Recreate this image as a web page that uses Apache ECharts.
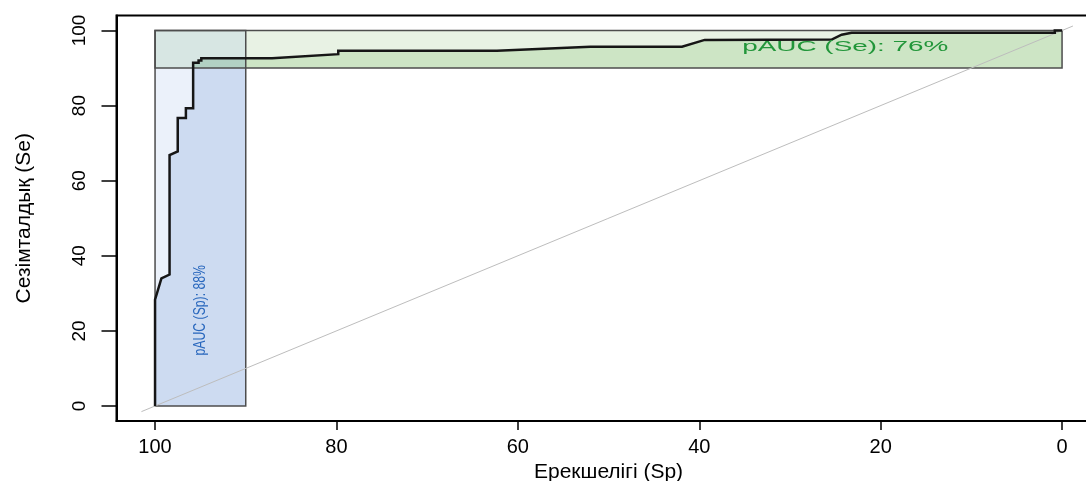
<!DOCTYPE html>
<html><head><meta charset="utf-8">
<script src="https://cdn.jsdelivr.net/npm/echarts@6/dist/echarts.min.js"></script>
<style>html,body{margin:0;padding:0;background:#fff}#c{width:1086px;height:481px}</style>
</head><body><div id="c"></div>
<script>
// ---- data ----
const xTicks = [100, 80, 60, 40, 20, 0];
const yTicks = [0, 20, 40, 60, 80, 100];
const rocSp = [100, 100, 99.3, 98.4, 98.4, 97.5, 97.5, 96.6, 96.6, 95.8, 95.8, 95.2, 95.2, 94.9, 94.9, 87.1, 79.8, 79.8, 62.3, 52.0, 41.9, 39.4, 25.4, 24.3, 23.2, 0.8, 0.8, 0];
const rocSe = [0, 28.3, 34.0, 35.0, 66.8, 67.8, 76.7, 76.7, 79.3, 79.3, 91.4, 91.4, 92.0, 92.0, 92.6, 92.6, 93.7, 94.6, 94.6, 95.7, 95.7, 97.5, 97.6, 98.9, 99.4, 99.4, 100, 100];
const diagSp = [101.5, -1.2];
const diagSe = [-1.5, 101.2];
const spFocus = [100, 90];
const seFocus = [90, 100];
const pAucSpText = 'pAUC (Sp): 88%';
const pAucSeText = 'pAUC (Se): 76%';
const labelSpPos = [95.0, 25.5];
const labelSePos = [23.9, 95.6];
const xTitle = 'Ерекшелігі (Sp)';
const yTitle = 'Сезімталдық (Se)';

// ---- geometry helpers (derived from data) ----
const roc = rocSp.map((s, i) => [s, rocSe[i]]);
function seAtSp(v) {
  for (let i = 0; i < roc.length - 1; i++) {
    const a = roc[i], b = roc[i + 1];
    if ((a[0] - v) * (b[0] - v) <= 0 && a[0] !== b[0]) {
      return a[1] + (b[1] - a[1]) * (v - a[0]) / (b[0] - a[0]);
    }
  }
  return null;
}
function spAtSe(v) {
  for (let i = 0; i < roc.length - 1; i++) {
    const a = roc[i], b = roc[i + 1];
    if ((a[1] - v) * (b[1] - v) <= 0 && a[1] !== b[1]) {
      return a[0] + (b[0] - a[0]) * (v - a[1]) / (b[1] - a[1]);
    }
  }
  return null;
}
const spLo = Math.min(...spFocus), spHi = Math.max(...spFocus);
const seLo = Math.min(...seFocus), seHi = Math.max(...seFocus);
const spPoly = [[spHi, 0]].concat(roc.filter(p => p[0] >= spLo && p[0] <= spHi), [[spLo, seAtSp(spLo)], [spLo, 0]]);
const sePoly = [[spAtSe(seLo), seLo]].concat(roc.filter(p => p[1] >= seLo && p[1] <= seHi), [[0, seLo]]);
const spRect = [[spHi, 0], [spLo, 0], [spLo, 100], [spHi, 100]];
const seRect = [[100, seLo], [0, seLo], [0, seHi], [100, seHi]];

const FONT = "'Liberation Sans', Arial, sans-serif";
const chart = echarts.init(document.getElementById('c'), null, { renderer: 'canvas' });

chart.setOption({
  animation: false,
  backgroundColor: '#fff',
  grid: { left: 116.5, top: 15.5, width: 984.1, height: 405.5, show: true, borderColor: '#000', borderWidth: 2, backgroundColor: 'transparent', containLabel: false, outerBoundsMode: 'none' },
  xAxis: {
    type: 'value', min: -4.25, max: 104.25, inverse: true,
    name: xTitle, nameLocation: 'middle', nameGap: 37,
    nameTextStyle: { fontSize: 21, color: '#000', fontFamily: FONT },
    axisLine: { show: true, onZero: false, lineStyle: { color: '#000', width: 2 } },
    axisTick: { show: true, inside: false, length: 9, lineStyle: { color: '#000', width: 1.5 }, customValues: xTicks },
    axisLabel: { fontSize: 20, color: '#000', fontFamily: FONT, margin: 16, customValues: xTicks },
    splitLine: { show: false }
  },
  yAxis: {
    type: 'value', min: -4, max: 104,
    name: yTitle, nameLocation: 'middle', nameGap: 82, nameRotate: 90,
    nameTextStyle: { fontSize: 21, color: '#000', fontFamily: FONT },
    axisLine: { show: true, onZero: false, lineStyle: { color: '#000', width: 2 } },
    axisTick: { show: true, inside: false, length: 15, lineStyle: { color: '#000', width: 1.5 }, customValues: yTicks },
    axisLabel: { fontSize: 19, color: '#000', fontFamily: FONT, rotate: 90, margin: 27, customValues: yTicks },
    splitLine: { show: false }
  },
  series: [
    {
      type: 'custom', name: 'fills', z: 1, silent: true, data: [[0, 0]],
      renderItem: function (params, api) {
        const pts = arr => arr.map(p => api.coord(p));
        return {
          type: 'group',
          children: [
            { type: 'polygon', shape: { points: pts(seRect) }, style: { fill: 'rgba(101,168,75,0.15)' } },
            { type: 'polygon', shape: { points: pts(spRect) }, style: { fill: 'rgba(122,162,222,0.15)' } },
            { type: 'polygon', shape: { points: pts(spPoly) }, style: { fill: 'rgba(142,174,223,0.32)' } },
            { type: 'polygon', shape: { points: pts(sePoly) }, style: { fill: 'rgba(149,202,135,0.32)' } },
            { type: 'polygon', shape: { points: pts(seRect) }, style: { fill: 'none', stroke: '#4d4d4d', lineWidth: 1.5 } },
            { type: 'polygon', shape: { points: pts(spRect) }, style: { fill: 'none', stroke: '#4d4d4d', lineWidth: 1.5 } }
          ]
        };
      }
    },
    {
      type: 'line', name: 'diag', z: 2, silent: true, showSymbol: false,
      data: diagSp.map((s, i) => [s, diagSe[i]]),
      lineStyle: { color: '#bdbdbd', width: 1 }
    },
    {
      type: 'line', name: 'ROC', z: 3, silent: true, showSymbol: false,
      data: roc,
      lineStyle: { color: '#161616', width: 2.5, join: 'miter' }
    },
    {
      type: 'custom', name: 'labels', z: 4, silent: true, data: [[0, 0]],
      renderItem: function (params, api) {
        const a = api.coord(labelSpPos), b = api.coord(labelSePos);
        return {
          type: 'group',
          children: [
            { type: 'text', x: a[0], y: a[1], rotation: Math.PI / 2, scaleX: 0.72, scaleY: 1,
              style: { text: pAucSpText, fill: '#2766bd', fontSize: 17, fontFamily: FONT, align: 'center', verticalAlign: 'middle' } },
            { type: 'text', x: b[0], y: b[1], scaleX: 1.8, scaleY: 1,
              style: { text: pAucSeText, fill: '#22963a', fontSize: 15.5, fontFamily: FONT, align: 'center', verticalAlign: 'middle' } }
          ]
        };
      }
    }
  ]
});
</script></body></html>
